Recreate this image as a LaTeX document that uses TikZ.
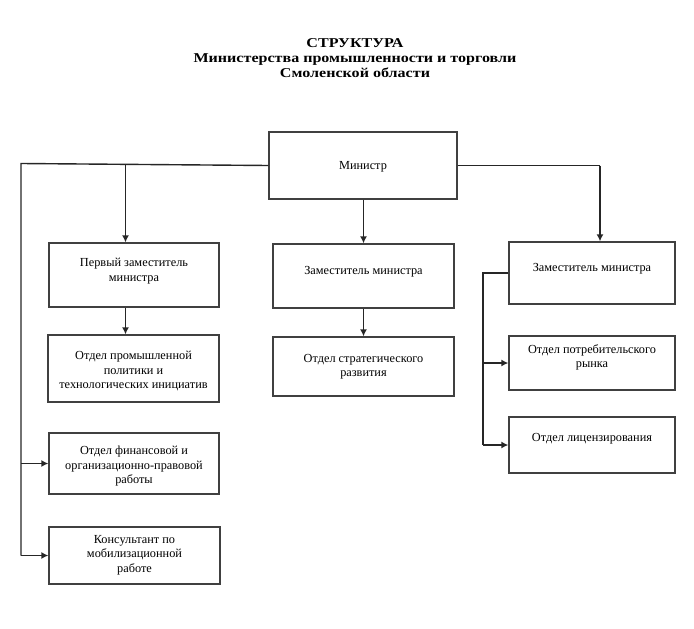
\documentclass[tikz,border=0pt]{standalone}
\usepackage{fontspec}
\setmainfont{Liberation Serif}
\newfontfamily\ttlfont[FakeStretch=1.19]{Liberation Serif}
\usetikzlibrary{arrows.meta,calc}
\begin{document}
\begin{tikzpicture}[x=1pt,y=-1pt,
  box/.style={draw=black!75, line width=1.3pt, rectangle, inner sep=0pt},
  lbl/.style={align=center, font=\fontsize{12.3}{14.6}\selectfont, inner sep=0pt, anchor=north},
  ttl/.style={align=center, font=\ttlfont\fontsize{13.5}{15}\selectfont\bfseries, inner sep=0pt},
  con/.style={draw=black!85, line width=1.4pt},
  arr/.style={con, -{Latex[length=7pt,width=7pt]}}]
\useasboundingbox (0,0) rectangle (694,629);
% title
\node[ttl] (title) at (355,58) {СТРУКТУРА\\Министерства промышленности и торговли\\Смоленской области};
% boxes
\node[box, minimum width=188, minimum height=67] (min) at (363,165.5) {};
\node[box, minimum width=170, minimum height=64] (perv) at (134,275) {};
\node[box, minimum width=181, minimum height=64] (zam2) at (363.5,276) {};
\node[box, minimum width=166, minimum height=62] (zam3) at (592,273) {};
\node[box, minimum width=171, minimum height=67] (prom) at (133.5,368.5) {};
\node[box, minimum width=181, minimum height=59] (strat) at (363.5,366.5) {};
\node[box, minimum width=170, minimum height=61] (fin) at (134,463.5) {};
\node[box, minimum width=171, minimum height=57] (kons) at (134.5,555.5) {};
\node[box, minimum width=166, minimum height=54] (potr) at (592,363) {};
\node[box, minimum width=166, minimum height=56] (lic) at (592,445) {};
% labels
\node[lbl] (min-t) at (363,161) {Министр};
\node[lbl] (perv-t) at (134,258) {Первый заместитель\\министра};
\node[lbl] (zam2-t) at (363.5,266) {Заместитель министра};
\node[lbl] (zam3-t) at (592,263) {Заместитель министра};
\node[lbl] (prom-t) at (133.5,351) {Отдел промышленной\\политики и\\технологических инициатив};
\node[lbl] (strat-t) at (363.5,354) {Отдел стратегического\\развития};
\node[lbl] (fin-t) at (134,446) {Отдел финансовой и\\организационно-правовой\\работы};
\node[lbl] (kons-t) at (134.5,535) {Консультант по\\мобилизационной\\работе};
\node[lbl] (potr-t) at (592,344) {Отдел потребительского\\рынка};
\node[lbl] (lic-t) at (592,433) {Отдел лицензирования};
% connectors
\coordinate (lt) at (21,163.5);
\coordinate (a1) at (125.5,164);
\coordinate (rt) at (483,273);
\coordinate (a3) at (600,165.5);
\draw[con] (min.west) -- (lt) -- (lt |- kons.west);
\draw[arr] (a1) -- (a1 |- perv.north);
\draw[arr] (perv.south -| a1) -- (prom.north -| a1);
\draw[arr] (lt |- fin.west) -- (fin.west);
\draw[arr] (lt |- kons.west) -- (kons.west);
\draw[arr] (min.south -| zam2.north) -- (zam2.north);
\draw[arr] (zam2.south) -- (strat.north);
\draw[con] (min.east) -- (a3);
\draw[arr] (a3) -- (a3 |- zam3.north);
\draw[con] (zam3.west) -- (rt) -- (rt |- lic.west);
\draw[arr] (rt |- potr.west) -- (potr.west);
\draw[arr] (rt |- lic.west) -- (lic.west);
\end{tikzpicture}
\end{document}
